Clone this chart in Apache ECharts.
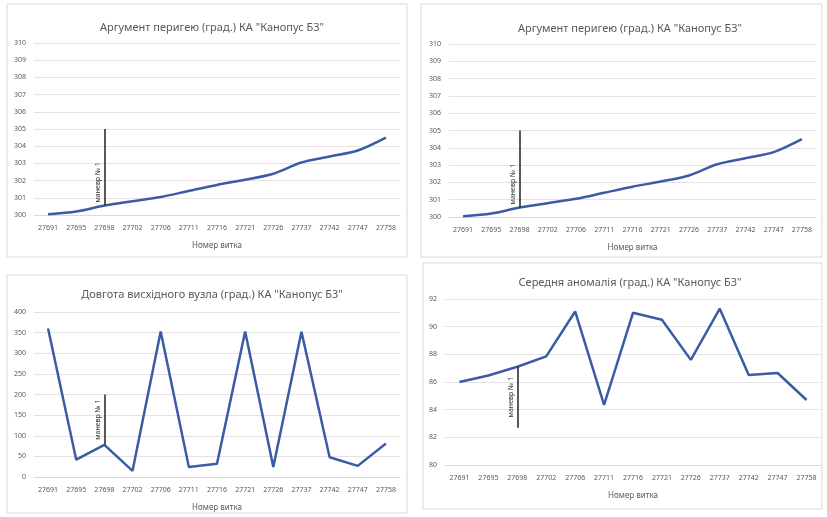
<!DOCTYPE html>
<html><head><meta charset="utf-8">
<script src="https://cdn.jsdelivr.net/npm/echarts@6/dist/echarts.min.js"></script>
<style>html,body{margin:0;padding:0;background:#fff}#c{width:827px;height:517px}</style>
</head><body><div id="c"></div>
<script>
const categories = ['27691','27695','27698','27702','27706','27711','27716','27721','27726','27737','27742','27747','27758'];
const perigeeArg = [300.05,300.2,300.55,300.8,301.05,301.4,301.75,302.05,302.4,303.05,303.4,303.75,304.5];
const ascNodeLon = [360,42,78,15,353,24,32,353,24,352,48,27,81];
const meanAnomaly = [86.0,86.47,87.1,87.85,91.1,84.35,91.0,90.5,87.6,91.3,86.5,86.65,84.7];
const maneuverLabel = 'маневр № 1';
const maneuverIndex = 2;
const maneuverEnd = [305, 305, 200, 82.7];
const titles = ['Аргумент перигею (град.) КА "Канопус Б3"','Аргумент перигею (град.) КА "Канопус Б3"','Довгота висхідного вузла (град.) КА "Канопус Б3"','Середня аномалія (град.) КА "Канопус Б3"'];
const xName = 'Номер витка';
const yRanges = [[300,310,1],[300,310,1],[0,400,50],[80,92,2]];

const grids = [
  {left:34, top:43, width:366, height:172},
  {left:449, top:44, width:367, height:173},
  {left:34, top:312, width:366, height:165},
  {left:445, top:299, width:376, height:166}
];
const panels = [[7,4,400,253],[421,4,401,253],[7,275,400,238],[423,263,399,246]];
const titlePos = [[207,17],[625,18],[207,284],[625,272]];
const seriesData = [perigeeArg, perigeeArg, ascNodeLon, meanAnomaly];
const grey = '#595959';
const option = {
  animation:false,
  backgroundColor:'#fff',
  graphic: panels.map(p=>({type:'rect',shape:{x:p[0],y:p[1],width:p[2],height:p[3]},style:{fill:'#fff',stroke:'#d9d9d9',lineWidth:1},z:-10})),
  title: titles.map((t,i)=>({text:t,left:titlePos[i][0],top:titlePos[i][1],textAlign:'center',textStyle:{fontFamily:'Noto Sans',fontSize:11,fontWeight:'normal',color:grey}})),
  grid: grids,
  xAxis: grids.map((g,i)=>({type:'category',gridIndex:i,data:categories,boundaryGap:true,
    name:xName,nameLocation:'middle',nameGap:27,nameTextStyle:{fontFamily:'Noto Sans',fontSize:8,color:grey},
    axisLine:{lineStyle:{color:'#d9d9d9'}},axisTick:{show:false},
    axisLabel:{fontFamily:'Noto Sans',fontSize:7,color:grey,margin:9,interval:0}})),
  yAxis: grids.map((g,i)=>({type:'value',gridIndex:i,min:yRanges[i][0],max:yRanges[i][1],interval:yRanges[i][2],
    axisLine:{show:false},axisTick:{show:false},splitLine:{lineStyle:{color:'#e3e3e3'}},
    axisLabel:{fontFamily:'Noto Sans',fontSize:7,color:grey,margin:8}})),
  series: seriesData.map((d,i)=>{
    const a = d[maneuverIndex], b = maneuverEnd[i];
    const lo = Math.min(a,b), hi = Math.max(a,b);
    return {type:'line',xAxisIndex:i,yAxisIndex:i,data:d,symbol:'none',smooth:i<2?0.3:false,
    lineStyle:{color:'#3b5ba5',width:2.5},
    markLine:{silent:true,symbol:['none','none'],animation:false,
      lineStyle:{color:'#222',type:'solid',width:1.5},
      label:{show:true,formatter:maneuverLabel,position:i===0||i===1?'insideStartTop':'insideMiddleTop',fontFamily:'Noto Sans',fontSize:7,color:'#333',distance:3},
      data:[[{coord:[maneuverIndex,lo]},{coord:[maneuverIndex,hi]}]]}};
  })
};
const chart = echarts.init(document.getElementById('c'),null,{renderer:'canvas'});
chart.setOption(option);
</script></body></html>
